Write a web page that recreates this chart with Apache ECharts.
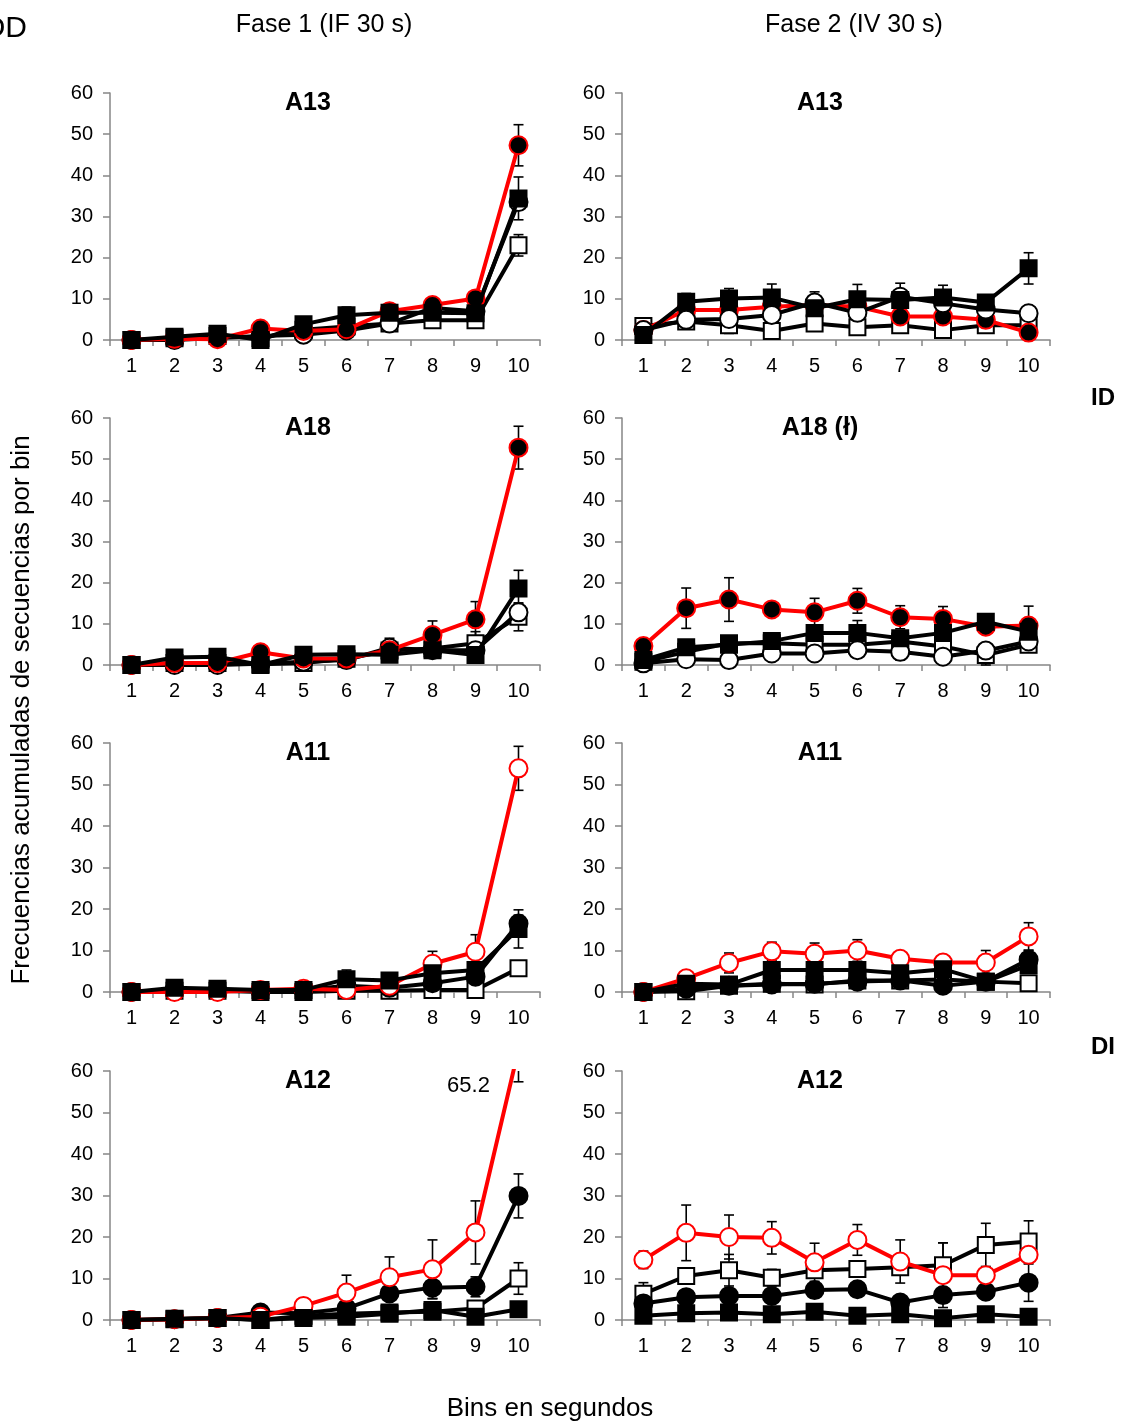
<!DOCTYPE html>
<html>
<head>
<meta charset="utf-8">
<script src="https://cdn.jsdelivr.net/npm/echarts@6/dist/echarts.min.js"></script>
<style>
html, body { margin: 0; padding: 0; background: #fff; }
#chart { width: 1123px; height: 1423px; }
</style>
</head>
<body>
<div id="chart"></div>
<script>
// Bins (categories) and value range
const bins = ['1', '2', '3', '4', '5', '6', '7', '8', '9', '10'];
const yMin = 0, yMax = 60, yStep = 10;

// ---- Fase 1 (IF 30 s) ----
// A13
const f1A13Red   = [0, 0.3, 0.2, 2.8, 2.2, 2.6, 7.0, 8.5, 10.1, 47.3];
const f1A13RedErr = [0, 0, 0, 0, 0, 0, 1.2, 1.5, 0, 5.0];
const f1A13OC    = [0, 0, 0.5, 1.0, 1.3, 2.3, 4.0, 7.8, 7.0, 33.5];
const f1A13FS    = [0, 0.8, 1.5, 0, 3.8, 6.0, 6.6, 6.6, 6.5, 34.4];
const f1A13FSErr = [0, 0, 0, 0, 0.8, 2.0, 0, 1.2, 0, 5.2];
const f1A13OS    = [0, 0.4, 1.0, 0.5, 2.5, 3.3, 4.0, 4.8, 4.8, 23.0];
const f1A13OSErr = [0, 0, 0, 0, 0, 0, 0, 1.2, 0, 2.6];
// A18
const f1A18Red   = [0, 0.5, 0.5, 3.1, 1.6, 1.6, 3.6, 7.3, 11.1, 52.8];
const f1A18RedErr = [0, 0, 0, 0, 0, 0, 0, 3.4, 4.3, 5.2];
const f1A18OC    = [0, 0, 0, 0.3, 0.8, 1.2, 4.2, 3.6, 3.6, 12.8];
const f1A18OCErr = [0, 0, 0, 0, 0, 0, 2.3, 0, 0, 2.0];
const f1A18FS    = [0, 1.8, 2.0, 0, 2.5, 2.6, 2.5, 3.6, 2.4, 18.6];
const f1A18FSErr = [0, 0, 0, 0, 0, 0, 0, 0, 0, 4.4];
const f1A18OS    = [0, 0.5, 0.5, 0.2, 0.5, 1.5, 3.5, 4.0, 5.3, 11.7];
const f1A18OSErr = [0, 0, 0, 0, 0, 0, 0, 0, 2.8, 3.4];
// A11
const f1A11Red   = [0, 0, 0, 0.5, 0.8, 0.5, 1.5, 6.8, 9.7, 53.9];
const f1A11RedErr = [0, 0, 0, 0, 0, 0, 0, 3.0, 4.1, 5.3];
const f1A11FC    = [0, 0.5, 0.3, 0.3, 0.5, 1.5, 1.0, 2.1, 3.7, 16.5];
const f1A11FCErr = [0, 0, 0, 0, 0, 0, 0, 0, 0, 2.0];
const f1A11FS    = [0, 1.0, 0.8, 0.5, 0.5, 3.1, 2.8, 4.5, 5.3, 15.2];
const f1A11FSErr = [0, 0, 0, 0, 0, 2.2, 1.2, 0, 0, 4.6];
const f1A11OS    = [0, 0.3, 0.3, 0, 0, 0.3, 0.3, 0.5, 0.5, 5.7];
// A12
const f1A12Red   = [0, 0.2, 0.5, 0.8, 3.4, 6.6, 10.3, 12.2, 21.1, 65.2];
const f1A12RedErr = [0, 0, 0, 0, 1.8, 4.2, 4.9, 7.1, 7.6, 7.8];
const f1A12FC    = [0, 0.2, 0.5, 1.8, 1.6, 2.8, 6.4, 7.8, 8.0, 29.9];
const f1A12FCErr = [0, 0, 0, 0, 0, 0, 0, 2.6, 2.4, 5.3];
const f1A12OS    = [0, 0.2, 0.5, 0, 1.0, 1.5, 1.8, 2.0, 2.8, 10.0];
const f1A12OSErr = [0, 0, 0, 0, 0, 0, 0, 0, 0, 3.8];
const f1A12FS    = [0, 0.3, 0.5, 0, 0.5, 0.8, 1.5, 2.4, 0.8, 2.6];

// ---- Fase 2 (IV 30 s) ----
// A13
const f2A13Red   = [2.4, 7.3, 7.3, 8.1, 8.5, 8.1, 5.7, 5.7, 4.9, 1.8];
const f2A13OC    = [2.4, 4.9, 5.1, 6.1, 9.1, 6.6, 10.5, 8.9, 7.4, 6.5];
const f2A13OCErr = [0, 0, 0, 0, 2.6, 0, 0, 0, 0, 0];
const f2A13FS    = [1.2, 9.3, 10.1, 10.3, 7.7, 9.9, 9.7, 10.3, 9.1, 17.4];
const f2A13FSErr = [0, 2.0, 2.4, 3.3, 0, 3.6, 4.1, 3.0, 0, 3.8];
const f2A13OS    = [3.4, 4.5, 3.6, 2.2, 4.0, 3.1, 3.6, 2.4, 3.6, 3.6];
const f2A13OSErr = [0, 1.6, 2.0, 0, 0, 0, 0, 0, 0, 0];
// A18 (ł)
const f2A18Red   = [4.6, 13.8, 15.9, 13.5, 12.8, 15.6, 11.6, 11.2, 9.3, 9.6];
const f2A18RedErr = [0, 4.9, 5.3, 0, 3.4, 3.0, 2.8, 3.0, 0, 4.7];
const f2A18FS    = [1.2, 4.3, 4.9, 5.8, 7.8, 7.8, 6.5, 7.8, 10.5, 8.1];
const f2A18FSErr = [0, 0, 0, 0, 0, 3.0, 1.5, 0, 0, 0];
const f2A18OC    = [0.4, 1.4, 1.2, 2.8, 2.8, 3.6, 3.2, 2.0, 3.5, 5.7];
const f2A18OCErr = [0, 0, 0, 0, 0, 0, 2.0, 0, 0, 0];
const f2A18OS    = [0.8, 3.2, 5.3, 5.3, 4.9, 4.9, 5.7, 4.5, 2.4, 4.9];
const f2A18OSErr = [0, 0, 0, 0, 0, 0, 0, 0, 2.8, 0];
// A11
const f2A11Red   = [0, 3.3, 7.0, 9.8, 9.2, 10.0, 8.0, 7.1, 7.1, 13.4];
const f2A11RedErr = [0, 0, 2.4, 2.2, 2.6, 2.6, 0, 0, 2.9, 3.3];
const f2A11FC    = [0, 0.8, 1.5, 1.8, 2.0, 2.5, 2.8, 1.5, 2.5, 7.8];
const f2A11FCErr = [0, 0, 0, 0, 0, 0, 0, 0, 0, 2.2];
const f2A11FS    = [0, 2.0, 1.8, 5.3, 5.3, 5.3, 4.5, 5.5, 2.5, 6.5];
const f2A11OS    = [0, 0.2, 1.5, 2.0, 1.8, 2.8, 2.8, 3.0, 2.5, 2.1];
// A12
const f2A12Red   = [14.5, 21.0, 20.0, 19.8, 13.9, 19.3, 14.1, 10.8, 10.8, 15.7];
const f2A12RedErr = [2.1, 6.7, 5.3, 3.9, 4.6, 3.7, 5.2, 7.8, 0, 0];
const f2A12OS    = [6.3, 10.6, 12.0, 10.2, 12.0, 12.3, 12.7, 13.2, 18.1, 18.9];
const f2A12OSErr = [2.7, 0, 3.8, 2.0, 0, 0, 0, 5.4, 5.2, 5.0];
const f2A12FC    = [4.0, 5.5, 5.8, 5.8, 7.2, 7.4, 4.2, 6.0, 6.8, 9.0];
const f2A12FCErr = [0, 0, 0, 0, 0, 0, 0, 0, 0, 4.5];
const f2A12FS    = [1.0, 1.6, 1.8, 1.4, 2.0, 1.0, 1.4, 0.4, 1.4, 0.8];

const FONT = '"Liberation Sans", Arial, Helvetica, sans-serif';

// Marker / line styles for each kind of series
const STYLES = {
  redFilled:    { line: '#ff0000', symbol: 'circle', fill: '#000000', border: '#ff0000', size: 18 },
  redOpen:      { line: '#ff0000', symbol: 'circle', fill: '#ffffff', border: '#ff0000', size: 18 },
  openCircle:   { line: '#000000', symbol: 'circle', fill: '#ffffff', border: '#000000', size: 18 },
  filledCircle: { line: '#000000', symbol: 'circle', fill: '#000000', border: '#000000', size: 18 },
  filledSquare: { line: '#000000', symbol: 'rect',   fill: '#000000', border: '#000000', size: 16 },
  openSquare:   { line: '#000000', symbol: 'rect',   fill: '#ffffff', border: '#000000', size: 16 }
};

// Panel layout: column (0 = Fase 1, 1 = Fase 2), row, title, series (draw order)
const panels = [
  { col: 0, row: 0, title: 'A13', series: [
      ['openSquare', f1A13OS, f1A13OSErr], ['openCircle', f1A13OC, null],
      ['redFilled', f1A13Red, f1A13RedErr], ['filledSquare', f1A13FS, f1A13FSErr]] },
  { col: 1, row: 0, title: 'A13', series: [
      ['openSquare', f2A13OS, f2A13OSErr], ['redFilled', f2A13Red, null],
      ['openCircle', f2A13OC, f2A13OCErr], ['filledSquare', f2A13FS, f2A13FSErr]] },
  { col: 0, row: 1, title: 'A18', series: [
      ['openSquare', f1A18OS, f1A18OSErr], ['openCircle', f1A18OC, f1A18OCErr],
      ['redFilled', f1A18Red, f1A18RedErr], ['filledSquare', f1A18FS, f1A18FSErr]] },
  { col: 1, row: 1, title: 'A18 (ł)', series: [
      ['openSquare', f2A18OS, f2A18OSErr], ['openCircle', f2A18OC, f2A18OCErr],
      ['redFilled', f2A18Red, f2A18RedErr], ['filledSquare', f2A18FS, f2A18FSErr]] },
  { col: 0, row: 2, title: 'A11', series: [
      ['openSquare', f1A11OS, null], ['filledCircle', f1A11FC, f1A11FCErr],
      ['redOpen', f1A11Red, f1A11RedErr], ['filledSquare', f1A11FS, f1A11FSErr]] },
  { col: 1, row: 2, title: 'A11', series: [
      ['openSquare', f2A11OS, null], ['filledCircle', f2A11FC, f2A11FCErr],
      ['redOpen', f2A11Red, f2A11RedErr], ['filledSquare', f2A11FS, null]] },
  { col: 0, row: 3, title: 'A12', series: [
      ['openSquare', f1A12OS, f1A12OSErr], ['filledCircle', f1A12FC, f1A12FCErr],
      ['redOpen', f1A12Red, f1A12RedErr], ['filledSquare', f1A12FS, null]] },
  { col: 1, row: 3, title: 'A12', series: [
      ['openSquare', f2A12OS, f2A12OSErr], ['filledCircle', f2A12FC, f2A12FCErr],
      ['redOpen', f2A12Red, f2A12RedErr], ['filledSquare', f2A12FS, null]] }
];

const colLeft = [110, 622], colWidth = [430, 428], colTitleX = [308, 820];
const rowTop = [93, 418, 743, 1071], rowHeight = [247, 247, 249, 249];

const grids = [], xAxes = [], yAxes = [], series = [], graphics = [];

panels.forEach((p, i) => {
  grids.push({ left: colLeft[p.col], top: rowTop[p.row], width: colWidth[p.col], height: rowHeight[p.row] });
  xAxes.push({
    type: 'category', gridIndex: i, data: bins, boundaryGap: true,
    axisLine: { lineStyle: { color: '#868686', width: 1.5 } },
    axisTick: { show: true, length: 6, lineStyle: { color: '#868686', width: 1.5 } },
    axisLabel: { color: '#000', fontSize: 20, fontFamily: FONT, margin: 16 },
    splitLine: { show: false }
  });
  yAxes.push({
    type: 'value', gridIndex: i, min: yMin, max: yMax, interval: yStep,
    axisLine: { show: true, lineStyle: { color: '#868686', width: 1.5 } },
    axisTick: { show: true, length: 7, lineStyle: { color: '#868686', width: 1.5 } },
    axisLabel: { color: '#000', fontSize: 20, fontFamily: FONT, margin: 17 },
    splitLine: { show: false }
  });

  // error bars (drawn under the lines and markers)
  p.series.forEach(([kind, vals, errs]) => {
    if (!errs) return;
    const data = [];
    vals.forEach((v, k) => { if (errs[k] > 0) data.push([k, v, errs[k]]); });
    series.push({
      type: 'custom', xAxisIndex: i, yAxisIndex: i, z: 1, silent: true,
      data: data,
      renderItem: (params, api) => {
        const x = api.value(0), v = api.value(1), e = api.value(2);
        const hiV = v + e, loV = Math.max(v - e, yMin);
        const hi = api.coord([x, Math.min(hiV, yMax)]);
        const lo = api.coord([x, loV]);
        const cap = 5;
        const st = { stroke: '#000', lineWidth: 1.6 };
        const children = [
          { type: 'line', shape: { x1: hi[0], y1: hi[1], x2: lo[0], y2: lo[1] }, style: st },
          { type: 'line', shape: { x1: lo[0] - cap, y1: lo[1], x2: lo[0] + cap, y2: lo[1] }, style: st }
        ];
        if (hiV <= yMax) {
          children.push({ type: 'line', shape: { x1: hi[0] - cap, y1: hi[1], x2: hi[0] + cap, y2: hi[1] }, style: st });
        }
        return { type: 'group', children: children };
      }
    });
  });

  p.series.forEach(([kind, vals], k) => {
    const s = STYLES[kind];
    series.push({
      type: 'line', xAxisIndex: i, yAxisIndex: i, z: 2 + k,
      data: vals, clip: true,
      symbol: s.symbol, symbolSize: s.size, showAllSymbol: true,
      lineStyle: { color: s.line, width: 4 },
      itemStyle: { color: s.fill, borderColor: s.border, borderWidth: 2, opacity: 1 },
      emphasis: { disabled: true },
      animation: false
    });
  });

  graphics.push({
    type: 'text', x: colTitleX[p.col], y: rowTop[p.row] + 10,
    style: { text: p.title, font: 'bold 25px ' + FONT, fill: '#000', textAlign: 'center', textVerticalAlign: 'middle' }
  });
});

// Column headings, side labels and axis titles
graphics.push(
  { type: 'text', x: 324, y: 25, style: { text: 'Fase 1 (IF 30 s)', font: '25px ' + FONT, fill: '#000', textAlign: 'center', textVerticalAlign: 'middle' } },
  { type: 'text', x: 854, y: 25, style: { text: 'Fase 2 (IV 30 s)', font: '25px ' + FONT, fill: '#000', textAlign: 'center', textVerticalAlign: 'middle' } },
  { type: 'text', x: 27, y: 29, style: { text: 'OD', font: '30px ' + FONT, fill: '#000', textAlign: 'right', textVerticalAlign: 'middle' } },
  { type: 'text', x: 1103, y: 398, style: { text: 'ID', font: 'bold 24px ' + FONT, fill: '#000', textAlign: 'center', textVerticalAlign: 'middle' } },
  { type: 'text', x: 1103, y: 1047, style: { text: 'DI', font: 'bold 24px ' + FONT, fill: '#000', textAlign: 'center', textVerticalAlign: 'middle' } },
  { type: 'text', x: 550, y: 1409, style: { text: 'Bins en segundos', font: '26px ' + FONT, fill: '#000', textAlign: 'center', textVerticalAlign: 'middle' } },
  { type: 'text', x: 22, y: 710, rotation: Math.PI / 2, style: { text: 'Frecuencias acumuladas de secuencias por bin', font: '26px ' + FONT, fill: '#000', textAlign: 'center', textVerticalAlign: 'middle' } }
);

const chart = echarts.init(document.getElementById('chart'), null, { renderer: 'canvas' });
chart.setOption({
  animation: false,
  backgroundColor: '#fff',
  grid: grids,
  xAxis: xAxes,
  yAxis: yAxes,
  series: series,
  graphic: graphics
});

// value label for the off-scale point (Fase 1, A12, bin 10)
const topPt = chart.convertToPixel({ xAxisIndex: 6, yAxisIndex: 6 }, [9, yMax]);
chart.setOption({
  graphic: graphics.concat([{
    type: 'text', x: topPt[0] - 50, y: topPt[1] + 15,
    style: { text: String(f1A12Red[9]), font: '22px ' + FONT, fill: '#000', textAlign: 'center', textVerticalAlign: 'middle' }
  }])
});
</script>
</body>
</html>
